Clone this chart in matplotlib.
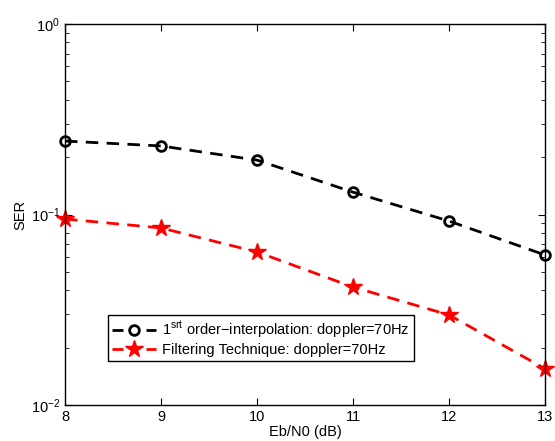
import matplotlib
matplotlib.use("Agg")
import matplotlib.pyplot as plt
from matplotlib.lines import Line2D
from matplotlib.legend_handler import HandlerBase
from matplotlib.ticker import LogLocator, NullFormatter

plt.rcParams['font.family'] = ['Liberation Sans', 'DejaVu Sans']
plt.rcParams['mathtext.fontset'] = 'custom'
plt.rcParams['mathtext.rm'] = 'Liberation Sans'

ebn0 = [8, 9, 10, 11, 12, 13]
ser_interp = [0.243, 0.229, 0.193, 0.131, 0.0924, 0.0613]
ser_filter = [0.0947, 0.0850, 0.0636, 0.0416, 0.0297, 0.0155]
label_interp = '1$^{\\rm srt}$ order\u2212interpolation: doppler=70Hz'
label_filter = 'Filtering Technique: doppler=70Hz'

FS = 10.5
fig = plt.figure(figsize=(5.55, 4.41), dpi=100)
ax = fig.add_axes([65/555, 1-405/441, 480/555, 381/441])

style_i = dict(color='k', marker='o', markersize=7, markerfacecolor='none',
               markeredgewidth=2, linewidth=2)
style_f = dict(color='r', marker='*', markersize=13, linewidth=2)

l_i, = ax.plot(ebn0, ser_interp, linestyle='--', dashes=(4.5, 3), clip_on=False, **style_i)
l_f, = ax.plot(ebn0, ser_filter, linestyle='--', dashes=(4.5, 3), clip_on=False, **style_f)

ax.set_yscale('log')
ax.set_xlim(8, 13)
ax.set_ylim(1e-2, 1e0)
ax.set_xticks(ebn0)
ax.yaxis.set_minor_locator(LogLocator(base=10, subs=range(2, 10)))
ax.yaxis.set_minor_formatter(NullFormatter())
ax.tick_params(which='both', direction='in', top=True, right=True, labelsize=FS)
ax.tick_params(which='major', length=5)
ax.tick_params(which='minor', length=3)
for s in ax.spines.values():
    s.set_linewidth(1)

ax.set_xlabel('Eb/N0 (dB)', fontsize=FS, labelpad=1)
ax.set_ylabel('SER', fontsize=FS, labelpad=2)


class DashMarkerHandler(HandlerBase):
    def create_artists(self, legend, orig, xdescent, ydescent, width, height,
                       fontsize, trans):
        y = height / 2 - ydescent
        x0 = -xdescent
        x1 = x0 + width
        seg = 0.24 * width
        c = orig.get_color()
        a1 = Line2D([x0, x0 + seg], [y, y], color=c, lw=2, solid_capstyle='butt')
        a2 = Line2D([x1 - seg, x1], [y, y], color=c, lw=2, solid_capstyle='butt')
        m = Line2D([x0 + width / 2], [y], linestyle='none', marker=orig.get_marker(),
                   markersize=orig.get_markersize(),
                   markerfacecolor=orig.get_markerfacecolor(),
                   markeredgecolor=orig.get_markeredgecolor(),
                   markeredgewidth=orig.get_markeredgewidth())
        for a in (a1, a2, m):
            a.set_transform(trans)
        return [a1, a2, m]


leg = ax.legend([l_i, l_f], [label_interp, label_filter], loc='upper left',
                bbox_to_anchor=(43/480, (405-315)/381), fontsize=FS,
                fancybox=False, edgecolor='black', framealpha=1, borderpad=0.3,
                borderaxespad=0, handlelength=3.0, labelspacing=0.15, handletextpad=0.4,
                handler_map={Line2D: DashMarkerHandler()})
leg.get_frame().set_linewidth(1)

fig.savefig('out.png', dpi=100)
